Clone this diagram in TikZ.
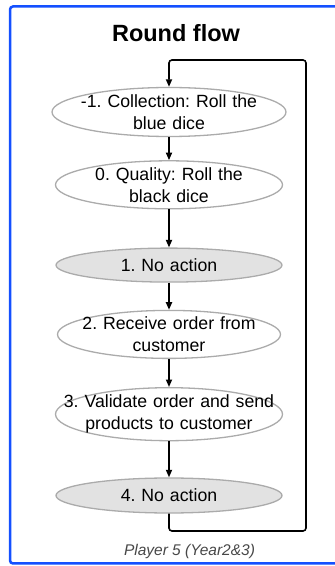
\documentclass[tikz,border=0pt]{standalone}
\usepackage{fontspec}
\setmainfont{Liberation Sans}
\frenchspacing
\definecolor{frameBlue}{HTML}{1450FF}
\definecolor{stepGray}{HTML}{E2E2E2}
\definecolor{stepLine}{HTML}{ABABAB}
\definecolor{noteGray}{HTML}{474747}
\usetikzlibrary{shapes.geometric, arrows.meta, positioning}
\tikzset{
  stepbox/.style={ellipse, draw=stepLine, line width=1.3pt, fill=white,
    text width=215pt, align=center, inner xsep=-100pt, inner ysep=-17pt,
    font=\fontsize{17.7}{22}\selectfont, minimum width=226pt},
  idlebox/.style={stepbox, fill=stepGray, minimum height=34pt},
  flow/.style={-{Triangle[length=7.5pt,width=6pt]}, line width=1.6pt}
}

\begin{document}
\begin{tikzpicture}[x=1pt, y=1pt]
  \clip (0,0) rectangle (335,566);
  \draw[frameBlue, line width=2.5pt, rounded corners=3pt] (10,2.5) rectangle (350,559.5);

  \node[font=\fontsize{23.5}{28}\selectfont\bfseries] (title) at (176,533) {Round flow};

  % round steps
  \node[stepbox, minimum width=234pt, minimum height=49pt] (collect) at (169,454)
    {-1. Collection: Roll the\\ blue dice};
  \node[stepbox, minimum width=227pt, minimum height=48pt, below=23pt of collect] (quality)
    {0. Quality: Roll the\\ black dice};
  \node[idlebox, below=38pt of quality] (idleA) {1. No action};
  \node[stepbox, minimum width=223pt, minimum height=48pt, below=27pt of idleA] (receive)
    {2. Receive order from\\ customer};
  \node[stepbox, minimum width=227pt, minimum height=53pt, below=28pt of receive] (validate)
    {3. Validate order and send\\ products to customer};
  \node[idlebox, minimum height=35pt, below=36pt of validate] (idleB) {4. No action};

  \draw[flow] (collect.south) -- (quality.north);
  \draw[flow] (quality.south) -- (idleA.north);
  \draw[flow] (idleA.south) -- (receive.north);
  \draw[flow] (receive.south) -- (validate.north);
  \draw[flow] (validate.south) -- (idleB.north);

  % back to the first step
  \coordinate (loopLow) at (306,35);
  \coordinate (loopHigh) at (169,506);
  \draw[flow, rounded corners=3pt] (idleB.south) |- (loopLow) |- (loopHigh) -- (collect.north);

  \node[font=\fontsize{15.5}{18}\selectfont\itshape, text=noteGray] (player) at (189.5,15)
    {Player 5 (Year2\&3)};
\end{tikzpicture}
\end{document}
